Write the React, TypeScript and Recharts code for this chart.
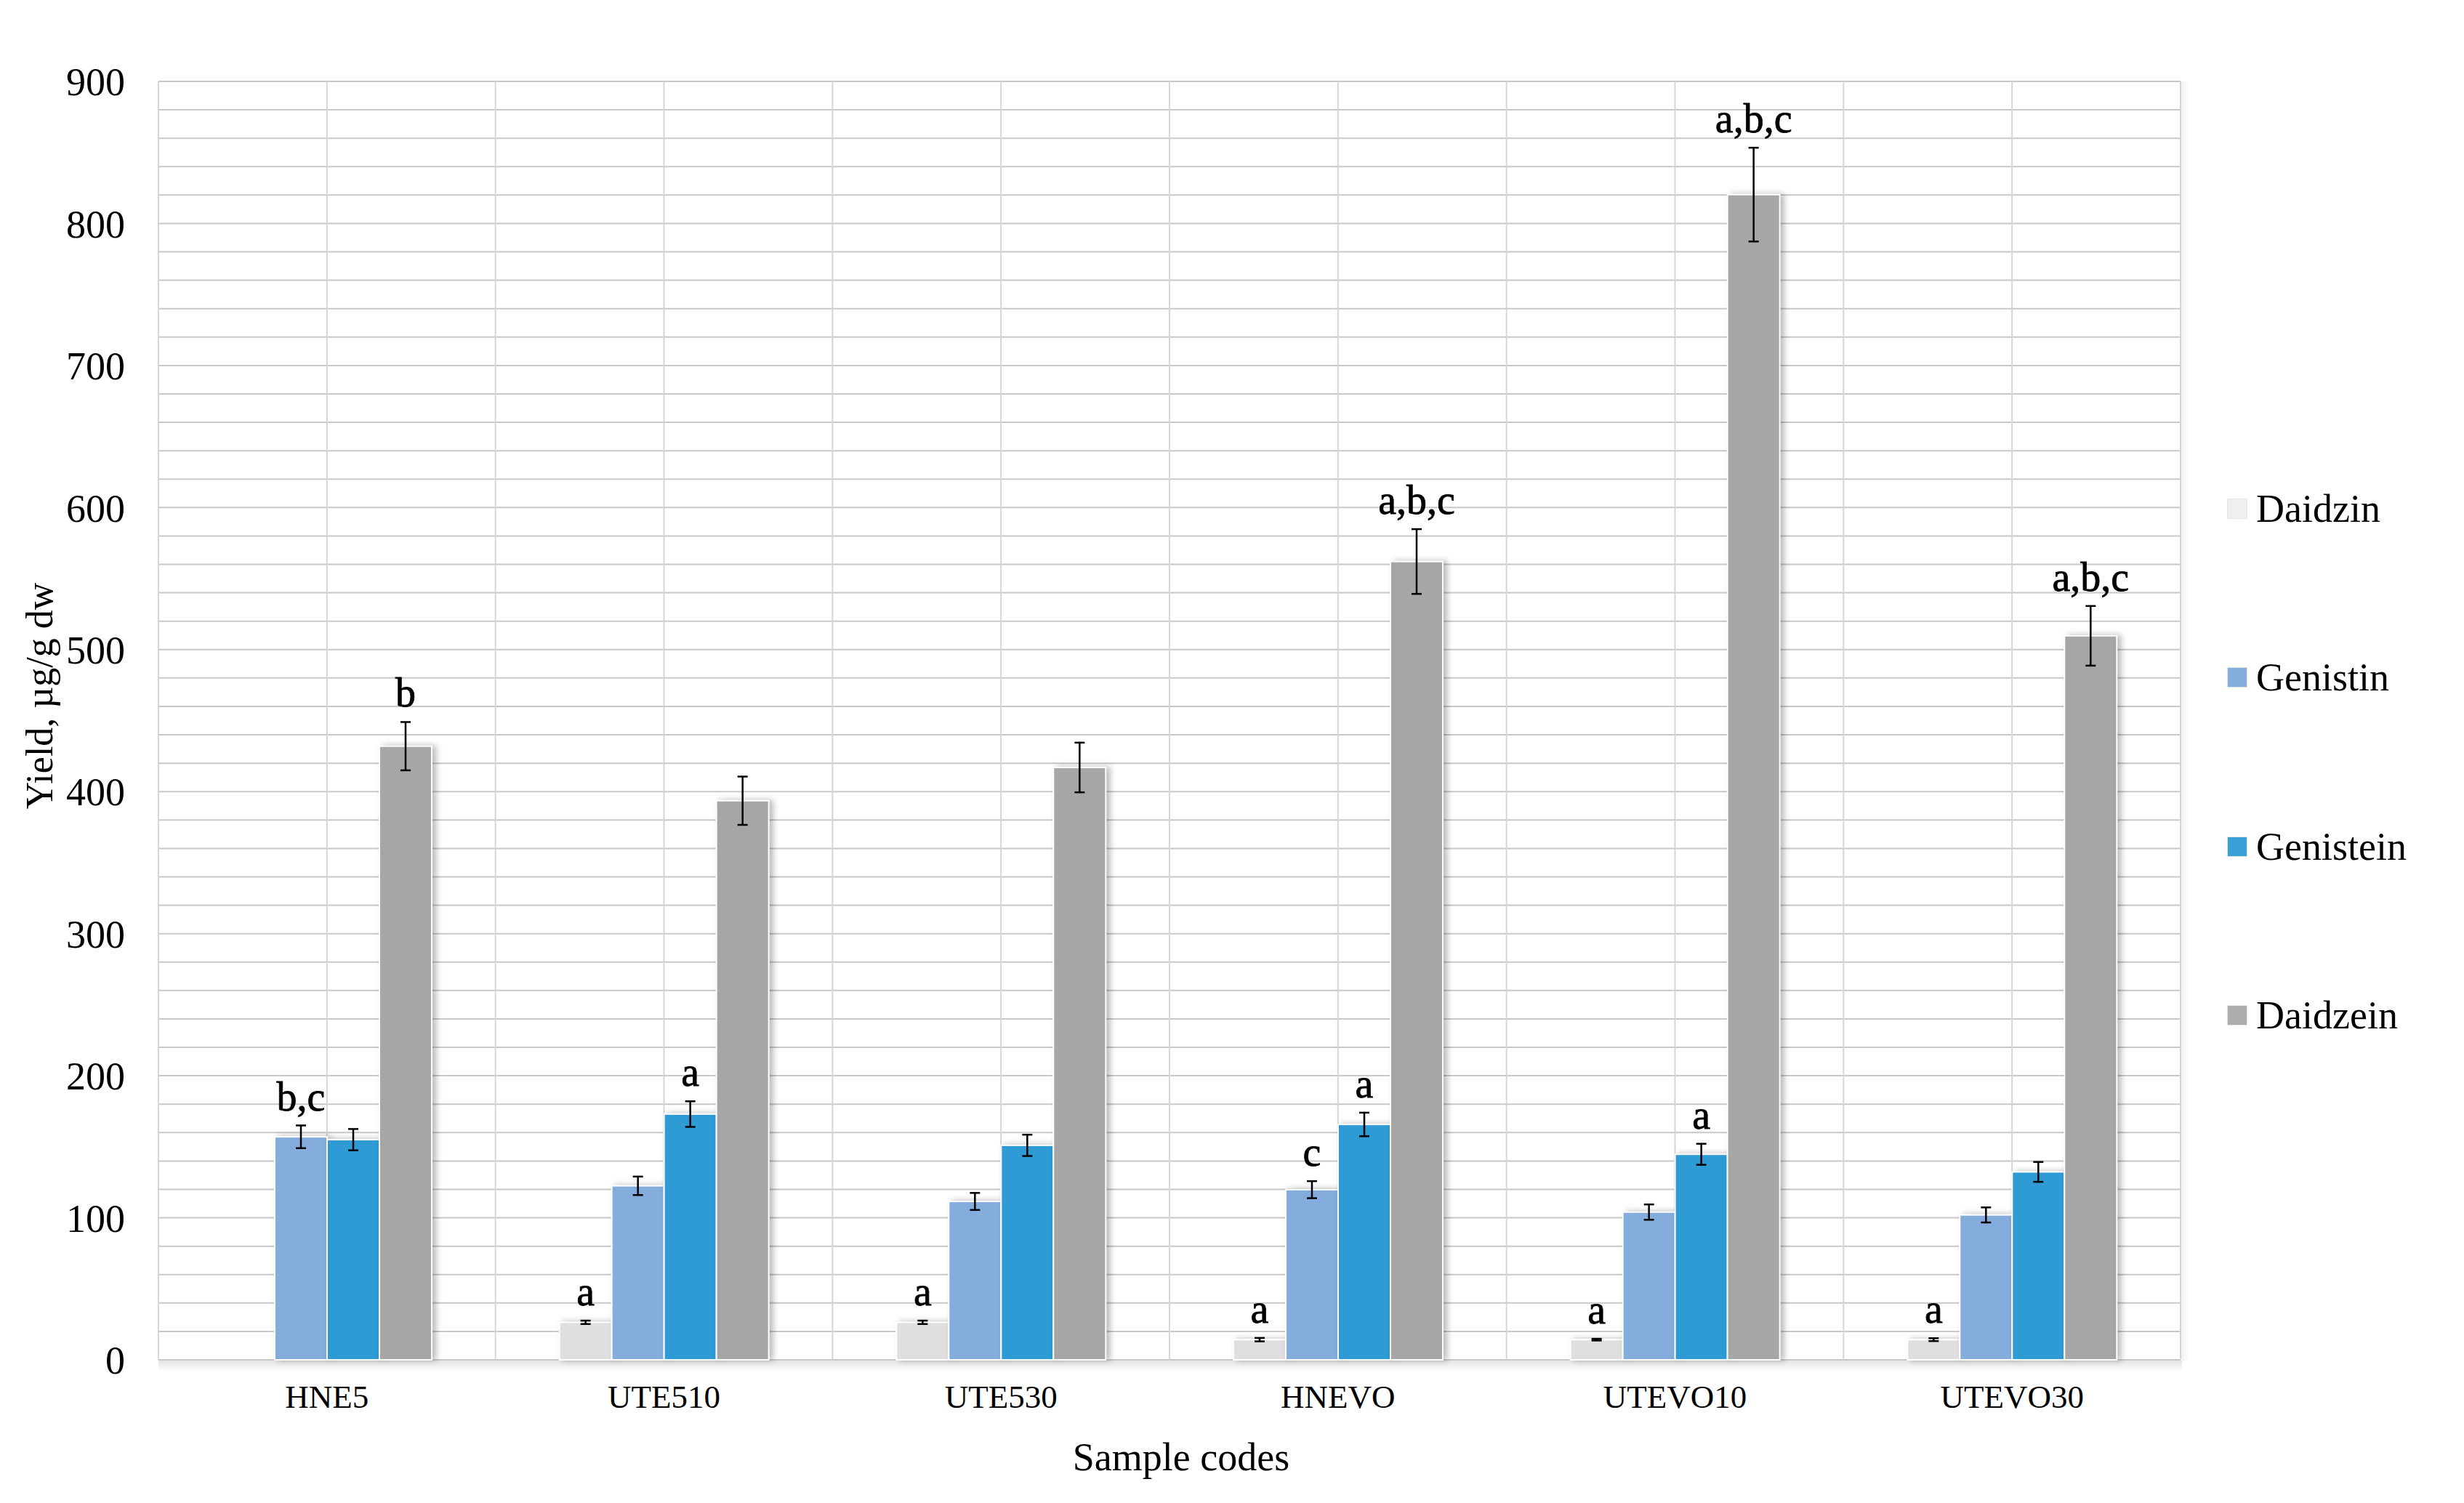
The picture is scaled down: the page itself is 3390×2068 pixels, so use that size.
import React from 'react'
import { BarChart, Bar, XAxis, YAxis, CartesianGrid, ErrorBar, LabelList } from 'recharts'

const samples = ['HNE5', 'UTE510', 'UTE530', 'HNEVO', 'UTEVO10', 'UTEVO30']

const daidzin = [0, 26.4, 26.4, 14.2, 14.2, 14.2]
const daidzinErr = [0, 1.2, 1.2, 1.2, 0.6, 1]
const daidzinSig = ['', 'a', 'a', 'a', 'a', 'a']

const genistin = [157, 122.5, 111.5, 119.8, 104, 102]
const genistinErr = [8, 6.5, 6, 6, 5.4, 5.3]
const genistinSig = ['b,c', '', '', 'c', '', '']

const genistein = [155, 173, 151, 165.7, 144.7, 132.3]
const genisteinErr = [7.5, 9, 7.5, 8.3, 7.4, 7]
const genisteinSig = ['', 'a', '', 'a', 'a', '']

const daidzein = [432, 393.6, 417, 562, 820.3, 509.7]
const daidzeinErr = [17, 17, 17.5, 22.8, 33, 21]
const daidzeinSig = ['b', '', '', 'a,b,c', 'a,b,c', 'a,b,c']

const yTicks = [0, 100, 200, 300, 400, 500, 600, 700, 800, 900]
const yMax = 900
const gridStep = 20

const FONT = "'Liberation Serif', 'Times New Roman', serif"

const series = [
  { key: 'daidzin', name: 'Daidzin', color: '#dfdfdf', legend: '#efefef', values: daidzin, err: daidzinErr, sig: daidzinSig },
  { key: 'genistin', name: 'Genistin', color: '#84acdd', legend: '#84acdd', values: genistin, err: genistinErr, sig: genistinSig },
  { key: 'genistein', name: 'Genistein', color: '#2e9bd5', legend: '#3aa0d8', values: genistein, err: genisteinErr, sig: genisteinSig },
  { key: 'daidzein', name: 'Daidzein', color: '#a6a6a6', legend: '#adadad', values: daidzein, err: daidzeinErr, sig: daidzeinSig },
]

const data = samples.map((sample, i) => {
  const row: Record<string, string | number> = { sample }
  for (const s of series) {
    row[s.key] = s.values[i]
    row[`${s.key}Err`] = s.err[i]
    row[`${s.key}Sig`] = s.sig[i]
  }
  return row
})

function ShadowBar(props: any) {
  const { x, y, width, height, fill } = props
  if (!height || height <= 0) return null
  return (
    <rect
      x={x}
      y={y}
      width={width}
      height={height}
      fill={fill}
      stroke="#ffffff"
      strokeWidth={2}
      style={{ filter: 'drop-shadow(5px 0px 4px rgba(0,0,0,0.28))' }}
    />
  )
}

function sigLabel(values: number[], err: number[]) {
  return (props: any) => {
    const { x, y, width, height, value, index } = props
    if (!value || index === undefined) return null
    const v = values[index]
    const perUnit = v > 0 ? height / v : 0
    const top = y - err[index] * perUnit
    return (
      <text
        x={x + width / 2}
        y={top - 21}
        textAnchor="middle"
        fontFamily={FONT}
        fontSize={56}
        fill="#000"
        stroke="#000"
        strokeWidth={0.8}
      >
        {value}
      </text>
    )
  }
}

function YTitle(props: any) {
  const vb = props.viewBox
  const cx = 54
  const cy = vb.y + vb.height / 2 - 34
  return (
    <text
      x={cx}
      y={cy}
      transform={`rotate(-90, ${cx}, ${cy})`}
      textAnchor="middle"
      dominantBaseline="central"
      fontFamily={FONT}
      fontSize={52}
      fill="#000"
    >
      Yield, µg/g dw
    </text>
  )
}

function XTitle(props: any) {
  const vb = props.viewBox
  return (
    <text
      x={vb.x + vb.width / 2 + 16}
      y={2023}
      textAnchor="middle"
      fontFamily={FONT}
      fontSize={54}
      fill="#000"
    >
      Sample codes
    </text>
  )
}

export default function App() {
  return (
    <div style={{ position: 'absolute', left: 0, top: 0, width: 3390, height: 2068, background: '#fff' }}>
      <div
        style={{
          position: 'absolute',
          left: 218,
          top: 1872,
          width: 2784,
          height: 16,
          background: 'linear-gradient(rgba(0,0,0,0.10), rgba(0,0,0,0))',
        }}
      />
      <div
        style={{
          position: 'absolute',
          left: 3001,
          top: 112,
          width: 10,
          height: 1760,
          background: 'linear-gradient(90deg, rgba(0,0,0,0.06), rgba(0,0,0,0))',
        }}
      />
      <BarChart
        width={3390}
        height={2068}
        data={data}
        margin={{ top: 112, right: 390, bottom: 77, left: 18 }}
        barSize={72}
        barGap={0}
        style={{ position: 'absolute', left: 0, top: 0 }}
      >
        <CartesianGrid
          vertical={false}
          stroke="#c8c8c8"
          strokeWidth={2}
          horizontalCoordinatesGenerator={({ offset }: any) =>
            Array.from({ length: yMax / gridStep + 1 }, (_, i) => offset.top + (offset.height * i * gridStep) / yMax)
          }
        />
        <CartesianGrid
          horizontal={false}
          stroke="#d6d6d6"
          strokeWidth={2}
          verticalCoordinatesGenerator={({ offset }: any) =>
            Array.from({ length: samples.length * 2 + 1 }, (_, i) => offset.left + (offset.width * i) / (samples.length * 2))
          }
        />
        <XAxis
          dataKey="sample"
          height={120}
          axisLine={false}
          tickLine={false}
          tickSize={0}
          tickMargin={34}
          tick={{ fontFamily: FONT, fontSize: 45, fill: '#000' }}
          label={{ content: <XTitle /> }}
        />
        <YAxis
          width={200}
          domain={[0, yMax]}
          ticks={yTicks}
          axisLine={false}
          tickLine={false}
          tickSize={0}
          tickMargin={46}
          tick={{ fontFamily: FONT, fontSize: 54, fill: '#000' }}
          label={{ content: <YTitle /> }}
        />
        {series.map((s) => (
          <Bar
            key={s.key}
            dataKey={s.key}
            name={s.name}
            fill={s.color}
            shape={<ShadowBar />}
            isAnimationActive={false}
          >
            <ErrorBar dataKey={`${s.key}Err`} width={7} stroke="#000" strokeWidth={2.5} direction="y" />
            <LabelList dataKey={`${s.key}Sig`} content={sigLabel(s.values, s.err)} />
          </Bar>
        ))}
      </BarChart>
      <div style={{ position: 'absolute', left: 3064, top: 0 }}>
        {series.map((s, i) => (
          <div
            key={s.key}
            style={{
              position: 'absolute',
              left: 0,
              top: 700 + i * 232.3 - 30,
              height: 60,
              display: 'flex',
              alignItems: 'center',
              whiteSpace: 'nowrap',
            }}
          >
            <div style={{ width: 28, height: 28, background: s.legend, border: '1px solid #e6e6e6', boxSizing: 'border-box' }} />
            <span style={{ marginLeft: 12, fontFamily: FONT, fontSize: 54, color: '#000' }}>{s.name}</span>
          </div>
        ))}
      </div>
    </div>
  )
}
